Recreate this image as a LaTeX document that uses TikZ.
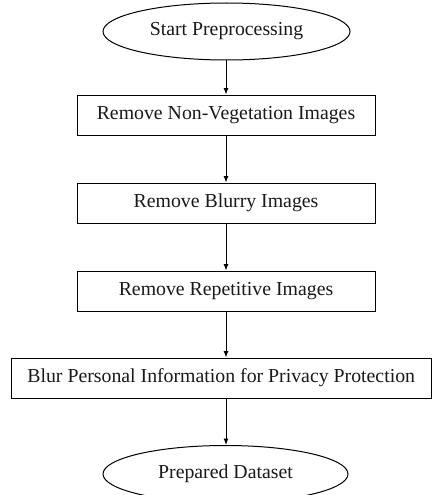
\documentclass[tikz,border=0pt]{standalone}
\usepackage{fontspec}
\setmainfont{Liberation Serif}
\usetikzlibrary{shapes.geometric,arrows.meta}
\begin{document}
\begin{tikzpicture}[x=1pt,y=-1pt,
  every node/.style={font=\fontsize{19.8}{22}\selectfont, text=black!90, inner sep=0pt},
  terminal/.style={draw, ellipse, line width=1pt, minimum height=57pt},
  stepbox/.style={draw, rectangle, line width=1pt, minimum height=40pt, minimum width=298pt},
  arr/.style={-{Latex[length=6.5pt,width=5pt]}, line width=1pt}]
  \useasboundingbox (0,0) rectangle (432,495);

  \node[terminal, minimum width=247pt] (start) at (226.5,31.5) {Start Preprocessing};
  \node[stepbox] (b1) at (226,115) {Remove Non-Vegetation Images};
  \node[stepbox] (b2) at (226,203) {Remove Blurry Images};
  \node[stepbox] (b3) at (226,291) {Remove Repetitive Images};
  \node[stepbox, minimum width=420pt] (b4) at (221.2,378) {Blur Personal Information for Privacy Protection};
  \node[terminal, minimum width=245pt] (end) at (225.5,474) {Prepared Dataset};

  \draw[arr] (b1.north |- start.south) -- (b1.north);
  \draw[arr] (b1.south) -- (b2.north);
  \draw[arr] (b2.south) -- (b3.north);
  \draw[arr] (b3.south) -- (b3.south |- b4.north);
  \draw[arr] (b3.south |- b4.south) -- (b3.south |- end.north);
\end{tikzpicture}
\end{document}
